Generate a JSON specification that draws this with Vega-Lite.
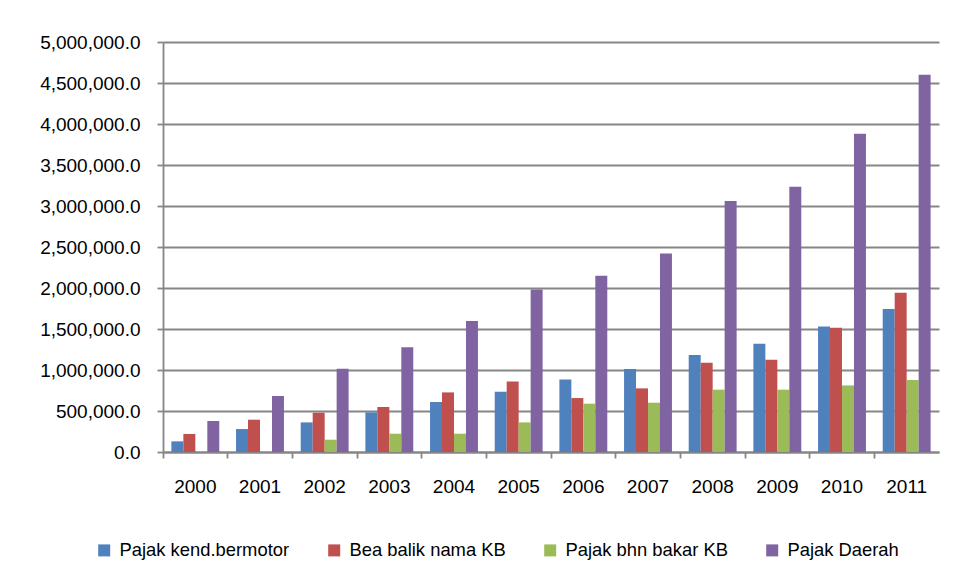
{
  "$schema": "https://vega.github.io/schema/vega-lite/v6.json",
  "autosize": "none",
  "width": 776,
  "height": 410,
  "padding": {"left": 163, "top": 42, "right": 15, "bottom": 131},
  "background": "white",
  "config": {
    "font": "Liberation Sans",
    "view": {"stroke": null},
    "axis": {"labelFont": "Liberation Sans", "labelFontSize": 19, "labelColor": "#000000"}
  },
  "data": {
    "values": [
      {"year": "2000", "series": "Pajak kend.bermotor", "value": 130000},
      {"year": "2000", "series": "Bea balik nama KB", "value": 220000},
      {"year": "2000", "series": "Pajak bhn bakar KB", "value": 0},
      {"year": "2000", "series": "Pajak Daerah", "value": 378000},
      {"year": "2001", "series": "Pajak kend.bermotor", "value": 280000},
      {"year": "2001", "series": "Bea balik nama KB", "value": 394000},
      {"year": "2001", "series": "Pajak bhn bakar KB", "value": 0},
      {"year": "2001", "series": "Pajak Daerah", "value": 683000},
      {"year": "2002", "series": "Pajak kend.bermotor", "value": 361000},
      {"year": "2002", "series": "Bea balik nama KB", "value": 479000},
      {"year": "2002", "series": "Pajak bhn bakar KB", "value": 150000},
      {"year": "2002", "series": "Pajak Daerah", "value": 1016000},
      {"year": "2003", "series": "Pajak kend.bermotor", "value": 483000},
      {"year": "2003", "series": "Bea balik nama KB", "value": 549000},
      {"year": "2003", "series": "Pajak bhn bakar KB", "value": 223000},
      {"year": "2003", "series": "Pajak Daerah", "value": 1276000},
      {"year": "2004", "series": "Pajak kend.bermotor", "value": 610000},
      {"year": "2004", "series": "Bea balik nama KB", "value": 727000},
      {"year": "2004", "series": "Pajak bhn bakar KB", "value": 223000},
      {"year": "2004", "series": "Pajak Daerah", "value": 1598000},
      {"year": "2005", "series": "Pajak kend.bermotor", "value": 735000},
      {"year": "2005", "series": "Bea balik nama KB", "value": 861000},
      {"year": "2005", "series": "Pajak bhn bakar KB", "value": 361000},
      {"year": "2005", "series": "Pajak Daerah", "value": 1983000},
      {"year": "2006", "series": "Pajak kend.bermotor", "value": 885000},
      {"year": "2006", "series": "Bea balik nama KB", "value": 658000},
      {"year": "2006", "series": "Pajak bhn bakar KB", "value": 589000},
      {"year": "2006", "series": "Pajak Daerah", "value": 2150000},
      {"year": "2007", "series": "Pajak kend.bermotor", "value": 1012000},
      {"year": "2007", "series": "Bea balik nama KB", "value": 776000},
      {"year": "2007", "series": "Pajak bhn bakar KB", "value": 601000},
      {"year": "2007", "series": "Pajak Daerah", "value": 2420000},
      {"year": "2008", "series": "Pajak kend.bermotor", "value": 1183000},
      {"year": "2008", "series": "Bea balik nama KB", "value": 1089000},
      {"year": "2008", "series": "Pajak bhn bakar KB", "value": 760000},
      {"year": "2008", "series": "Pajak Daerah", "value": 3060000},
      {"year": "2009", "series": "Pajak kend.bermotor", "value": 1320000},
      {"year": "2009", "series": "Bea balik nama KB", "value": 1126000},
      {"year": "2009", "series": "Pajak bhn bakar KB", "value": 760000},
      {"year": "2009", "series": "Pajak Daerah", "value": 3235000},
      {"year": "2010", "series": "Pajak kend.bermotor", "value": 1532000},
      {"year": "2010", "series": "Bea balik nama KB", "value": 1516000},
      {"year": "2010", "series": "Pajak bhn bakar KB", "value": 812000},
      {"year": "2010", "series": "Pajak Daerah", "value": 3880000},
      {"year": "2011", "series": "Pajak kend.bermotor", "value": 1744000},
      {"year": "2011", "series": "Bea balik nama KB", "value": 1943000},
      {"year": "2011", "series": "Pajak bhn bakar KB", "value": 878000},
      {"year": "2011", "series": "Pajak Daerah", "value": 4600000}
    ]
  },
  "resolve": {"axis": {"x": "independent"}},
  "layer": [
    {
      "mark": {"type": "bar"},
      "encoding": {
        "x": {
          "field": "year", "type": "nominal",
          "scale": {"paddingInner": 0, "paddingOuter": 0},
          "axis": {
            "orient": "bottom", "title": null, "labelAngle": 0,
            "ticks": false, "domain": false, "grid": false,
            "labelPadding": 25, "labelBaseline": "top"
          }
        },
        "xOffset": {
          "field": "series", "type": "nominal",
          "sort": ["Pajak kend.bermotor", "Bea balik nama KB", "Pajak bhn bakar KB", "Pajak Daerah"],
          "scale": {"paddingInner": 0, "paddingOuter": 0.7}
        },
        "y": {
          "field": "value", "type": "quantitative",
          "scale": {"domain": [0, 5000000], "nice": false},
          "axis": {
            "title": null,
            "values": [0, 500000, 1000000, 1500000, 2000000, 2500000, 3000000, 3500000, 4000000, 4500000, 5000000],
            "format": ",.1f",
            "grid": true, "gridColor": "#868686", "gridWidth": 1.8,
            "domain": true, "domainColor": "#868686", "domainWidth": 1.8,
            "ticks": true, "tickColor": "#868686", "tickWidth": 1.8, "tickSize": 6,
            "labelPadding": 17
          }
        },
        "color": {
          "field": "series", "type": "nominal",
          "sort": ["Pajak kend.bermotor", "Bea balik nama KB", "Pajak bhn bakar KB", "Pajak Daerah"],
          "scale": {
            "domain": ["Pajak kend.bermotor", "Bea balik nama KB", "Pajak bhn bakar KB", "Pajak Daerah"],
            "range": ["#4F81BD", "#C0504D", "#9BBB59", "#8064A2"]
          },
          "legend": {
            "title": null,
            "orient": "none",
            "legendX": -68,
            "legendY": 499,
            "padding": 0,
            "direction": "horizontal",
            "columns": 4,
            "symbolType": "square",
            "symbolSize": 144,
            "symbolStrokeWidth": 0,
            "labelFont": "Liberation Sans",
            "labelFontSize": 18.4,
            "labelColor": "#000000",
            "labelOffset": 6,
            "columnPadding": 35,
            "labelLimit": 400
          }
        }
      }
    },
    {
      "mark": {"type": "tick", "opacity": 0},
      "encoding": {
        "x": {
          "field": "year", "type": "nominal",
          "axis": {
            "orient": "bottom", "title": null, "labels": false, "grid": false,
            "bandPosition": 0,
            "domain": true, "domainColor": "#868686", "domainWidth": 1.8,
            "ticks": true, "tickColor": "#868686", "tickWidth": 1.8, "tickSize": 6
          }
        }
      }
    }
  ]
}
